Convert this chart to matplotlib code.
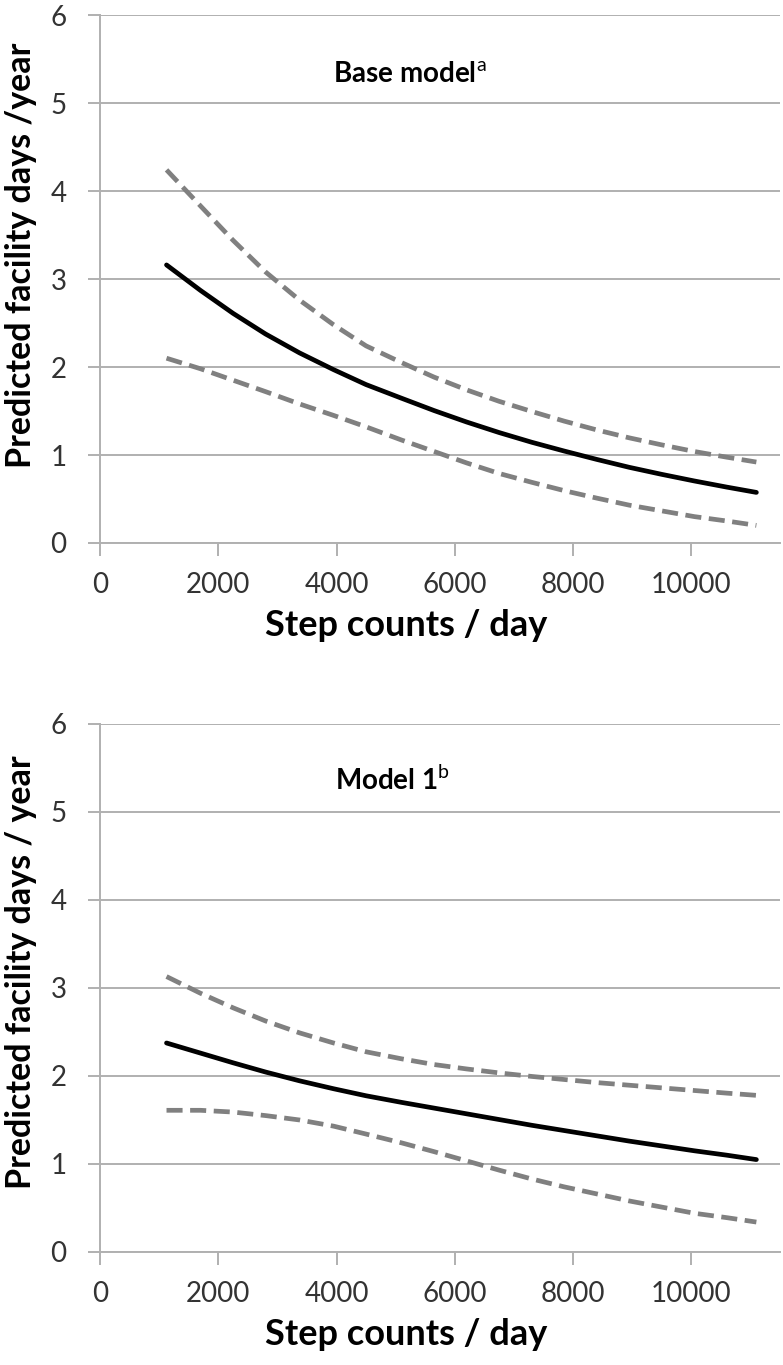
import matplotlib
matplotlib.use('Agg')
import matplotlib.pyplot as plt

plt.rcParams['font.family'] = ['Lato', 'DejaVu Sans']
plt.rcParams['mathtext.fontset'] = 'custom'
plt.rcParams['mathtext.rm'] = 'Lato'
plt.rcParams['mathtext.bf'] = 'Lato:bold'

steps = [1125, 1700, 2250, 2800, 3375, 3950, 4500, 5100, 5650, 6200,
         6750, 7300, 7850, 8400, 8950, 9500, 10050, 10600, 11100]

# Base model: prediction and 95% CI
base_pred = [3.16, 2.87, 2.61, 2.375, 2.16, 1.97, 1.80, 1.645, 1.505, 1.375,
             1.255, 1.145, 1.045, 0.95, 0.86, 0.78, 0.705, 0.635, 0.575]
base_upper = [4.24, 3.83, 3.44, 3.08, 2.76, 2.48, 2.24, 2.05, 1.885, 1.74,
              1.61, 1.495, 1.385, 1.285, 1.195, 1.115, 1.04, 0.975, 0.92]
base_lower = [2.10, 1.98, 1.85, 1.72, 1.58, 1.45, 1.32, 1.17, 1.04, 0.91,
              0.79, 0.69, 0.595, 0.51, 0.43, 0.365, 0.30, 0.25, 0.20]

# Model 1: prediction and 95% CI
m1_pred = [2.375, 2.26, 2.15, 2.045, 1.945, 1.855, 1.775, 1.70, 1.635, 1.57,
           1.505, 1.44, 1.38, 1.32, 1.26, 1.205, 1.15, 1.10, 1.05]
m1_upper = [3.13, 2.94, 2.775, 2.625, 2.49, 2.375, 2.275, 2.195, 2.13, 2.08,
            2.035, 1.995, 1.96, 1.925, 1.895, 1.865, 1.835, 1.805, 1.78]
m1_lower = [1.61, 1.61, 1.59, 1.55, 1.50, 1.43, 1.34, 1.24, 1.14, 1.035,
            0.93, 0.83, 0.74, 0.66, 0.58, 0.51, 0.44, 0.39, 0.34]

xticks = [0, 2000, 4000, 6000, 8000, 10000]
yticks = [0, 1, 2, 3, 4, 5, 6]

panels = [
    (r'Base model$^{\mathrm{a}}$', 'Predicted facility days /year', base_pred, base_upper, base_lower),
    (r'Model 1$^{\mathrm{b}}$', 'Predicted facility days / year', m1_pred, m1_upper, m1_lower),
]

fig = plt.figure(figsize=(7.83, 13.65), dpi=100)
positions = [[0.1277, 0.6022, 0.8685, 0.3868], [0.1277, 0.0828, 0.8685, 0.3868]]
title_xy = [(0.455, 0.886), (0.43, 0.894)]
ylab_y = [0.545, 0.53]
grid_col = '#b0b0b0'

for i, (title, ylab, pred, upper, lower) in enumerate(panels):
    ax = fig.add_axes(positions[i])
    ax.plot(steps, upper, color='#808080', lw=3.4, dashes=(3.4, 1.6))
    ax.plot(steps, lower, color='#808080', lw=3.4, dashes=(3.4, 1.6))
    ax.plot(steps, pred, color='black', lw=3.4, solid_capstyle='round')
    ax.set_xlim(0, 11500)
    ax.set_ylim(0, 6)
    ax.set_xticks(xticks)
    ax.set_yticks(yticks)
    ax.yaxis.grid(True, color=grid_col, lw=1.4)
    ax.set_axisbelow(True)
    for s in ['top', 'right']:
        ax.spines[s].set_visible(False)
    for s in ['left', 'bottom']:
        ax.spines[s].set_color(grid_col)
        ax.spines[s].set_linewidth(1.4)
    ax.tick_params(axis='both', color=grid_col, width=1.4, length=9, labelsize=20, labelcolor='#333333')
    ax.tick_params(axis='x', pad=12)
    ax.tick_params(axis='y', pad=15)
    ax.set_xlabel('Step counts / day', fontsize=26, fontweight='bold')
    ax.xaxis.set_label_coords(0.45, -0.125)
    ax.set_ylabel(ylab, fontsize=24.5, fontweight='bold')
    ax.yaxis.set_label_coords(-0.093, ylab_y[i])
    ax.text(title_xy[i][0], title_xy[i][1], title, transform=ax.transAxes,
            fontsize=20, fontweight='bold', ha='center', va='center')

fig.savefig('out.png', dpi=100)
